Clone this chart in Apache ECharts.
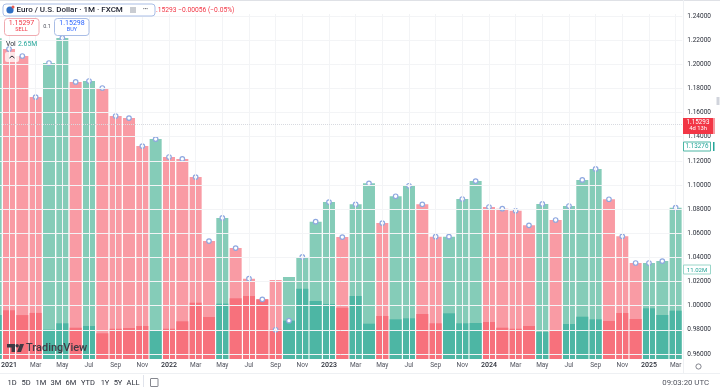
<!DOCTYPE html>
<html><head><meta charset="utf-8">
<style>html,body{margin:0;padding:0;background:#fff}#c{width:720px;height:391px}</style>
<script src="https://cdn.jsdelivr.net/npm/echarts@6/dist/echarts.min.js"></script>
</head><body><div id="c"></div>
<script>
const periods = ['Dec20','2021','Feb','Mar','Apr','May','Jun','Jul','Aug','Sep','Oct','Nov','Dec','2022','Feb22','Mar22','Apr22','May22','Jun22','Jul22','Aug22','Sep22','Oct22','Nov22','Dec22','2023','Feb23','Mar23','Apr23','May23','Jun23','Jul23','Aug23','Sep23','Oct23','Nov23','Dec23','2024','Feb24','Mar24','Apr24','May24','Jun24','Jul24','Aug24','Sep24','Oct24','Nov24','Dec24','2025','Feb25','Mar25'];
const axisLabels = ['','2021','','Mar','','May','','Jul','','Sep','','Nov','','2022','','Mar','','May','','Jul','','Sep','','Nov','','2023','','Mar','','May','','Jul','','Sep','','Nov','','2024','','Mar','','May','','Jul','','Sep','','Nov','','2025','','Mar'];
const closes = [1.2216,1.2127,1.2069,1.1729,1.2011,1.2218,1.1854,1.1862,1.1804,1.1572,1.1555,1.1323,1.1381,1.1232,1.1216,1.1066,1.0536,1.0727,1.0478,1.0224,1.0053,0.9801,0.9876,1.0404,1.0696,1.0859,1.0569,1.0840,1.1014,1.0685,1.0907,1.0994,1.0840,1.0572,1.0572,1.0884,1.1033,1.0818,1.0804,1.0787,1.0666,1.0843,1.0710,1.0826,1.1042,1.1133,1.0882,1.0575,1.0354,1.0354,1.0370,1.0812];
const barTops = closes.map((v,i)=> periods[i]==='Sep22' ? 1.0213 : periods[i]==='Oct22' ? 1.0238 : v);
const directions = [1,0,0,0,1,1,0,1,0,0,0,0,1,0,0,0,0,1,0,0,0,0,1,1,1,1,0,1,1,0,1,1,0,0,1,1,1,0,0,0,0,1,0,1,1,1,0,0,0,1,1,1];
const volumes = [10.1,11.2,10.1,10.6,6.74,8.21,7.2,7.59,5.91,6.97,7.13,7.59,6.67,6.97,8.67,12.95,9.66,12.72,13.96,14.49,13.73,6.74,8.81,16.17,13.34,12.65,11.8,14.49,8.12,9.89,9.13,9.36,10.35,8.21,10.51,8.21,8.28,8.51,7.2,6.97,7.59,6.21,6.6,8.05,9.73,9.13,8.74,10.58,9.2,11.66,10.12,11.11];
const priceTicks = [0.96,0.98,1.0,1.02,1.04,1.06,1.08,1.10,1.12,1.14,1.16,1.18,1.20,1.22,1.24];
const lastPrice = 1.15293;
const rangeButtons = ['1D','5D','1M','3M','6M','YTD','1Y','5Y','ALL'];
const rangeX = [12,26,41,56,71,88,105,118,133];

const F='Roboto, "Open Sans", sans-serif';
const LR='#f99ba4', LT='#85ccb8', DR='#f7717c', DT='#4db6a4';
const txt=(x,y,t,s,c,o={})=>({type:'text',x,y,silent:true,z:50,style:{text:t,font:(o.w||'400')+' '+s+'px '+F,fill:c,textAlign:o.a||'left',textVerticalAlign:'middle'}});
const box=(x,y,w,h,r,fill,stroke,lw)=>({type:'rect',silent:true,z:49,shape:{x,y,width:w,height:h,r},style:{fill,stroke,lineWidth:lw||0}});
const poly=(pts,fill)=>({type:'polygon',silent:true,z:50,shape:{points:pts},style:{fill}});
const graphics=[
 {type:'rect',silent:true,z:1,shape:{x:0,y:0,width:720,height:1},style:{fill:'#dfe1e6'}},
 {type:'rect',silent:true,z:1,shape:{x:0,y:373,width:720,height:1},style:{fill:'#eef0f3'}},
 {type:'rect',silent:true,z:1,shape:{x:683,y:0,width:1,height:373},style:{fill:'#eef0f3'}},
 box(3,4,152,12,3,'#fff','#a9bde6',1),
 {type:'circle',silent:true,z:50,shape:{cx:10,cy:10,r:3.6},style:{fill:'#2f6fc4'}},
 {type:'circle',silent:true,z:50,shape:{cx:13,cy:7,r:1.5},style:{fill:'#e85a4f'}},
 txt(16.5,10,'Euro / U.S. Dollar · 1M · FXCM',8,'#1f2230',{w:'500'}),
 box(130,7,6,6,0,'#c9ccd2','#c9ccd2',0),
 txt(143,10,'•••',5,'#50535e'),
 txt(156,10.5,'.15293 −0.00056 (−0.05%)',6.7,'#f23645'),
 box(4.5,18.5,34.5,17,3,'#fff','#f0aab0',1),
 txt(21.5,23,'1.15297',7,'#f23645',{a:'center'}),
 txt(21.5,30,'SELL',5.5,'#f23645',{a:'center'}),
 txt(47,27,'0.1',5.5,'#50535e',{a:'center'}),
 box(54.5,18.5,34.5,17,3,'#fff','#a9bde6',1),
 txt(72,23,'1.15298',7,'#2962ff',{a:'center'}),
 txt(72,30,'BUY',5.5,'#2962ff',{a:'center'}),
 txt(6,44,'Vol',6.8,'#2a2e39'),
 txt(18,44,'2.65M',6.8,'#26a69a'),
 box(5,52,14,10,2,'rgba(255,255,255,0.75)','rgba(255,255,255,0)',0),
 {type:'polyline',silent:true,z:50,shape:{points:[[9.5,58],[12,56],[14.5,58]]},style:{stroke:'#2a2e39',lineWidth:1,fill:null}},
 poly([[7,344],[15,344],[15,352],[11.5,352],[11.5,347.5],[7,347.5]],'#3f3a44'),
 box(15.5,344,3.4,3.4,1.7,'#3f3a44','#3f3a44',0),
 poly([[20,344],[24,344],[21,352],[17,352]],'#3f3a44'),
 txt(26,348.5,'TradingView',11,'#3f3a44',{w:'500'}),
 box(683,118,30,16,0,'#f23645','#f23645',0),
 txt(698,122.5,'1.15293',6.3,'#fff',{a:'center'}),
 txt(698,129,'4d 13h',5.8,'#fff',{a:'center'}),
 box(713.5,118,1,16,0,'#f23645','#f23645',0),
 box(683.5,142,27,9,0,'#fff','#4db6a4',1),
 txt(697,146.5,'1.13276',6.3,'#26a69a',{a:'center'}),
 box(713,142,1.5,9,0,'#26a69a','#26a69a',0),
 box(683.5,265,27,9,0,'#fff','#9ad6c9',1),
 txt(697,270,'11.02M',6,'#26a69a',{a:'center'}),
 box(716.5,97,3,8,0,'#d1d4dc','#d1d4dc',0),
 {type:'circle',silent:true,z:50,shape:{cx:698.5,cy:366.5,r:2.6},style:{fill:'#fff',stroke:'#50535e',lineWidth:0.7}},
 txt(709,383,'09:03:20 UTC',7.8,'#50535e',{a:'right'}),
 box(150.5,378.5,7.5,8,0.5,'#fff','#50535e',0.7),
 {type:'rect',silent:true,z:49,shape:{x:143,y:375,width:1,height:12},style:{fill:'#e0e3eb'}}
];
rangeButtons.forEach((t,i)=>graphics.push(txt(rangeX[i],383,t,7.5,'#2a2e39',{a:'center'})));

const gl={color:'#f3f4f6',width:1,type:'solid'};
const gridLines=[
 ...priceTicks.map(v=>({yAxis:v,lineStyle:gl})),
 ...periods.map((p,i)=>axisLabels[i]?{xAxis:p,lineStyle:gl}:null).filter(Boolean),
 {yAxis:lastPrice,lineStyle:{color:'#d8dae0',width:1,type:'dotted'}}
];
const chart=echarts.init(document.getElementById('c'),null,{renderer:'canvas'});
chart.setOption({
 animation:false,
 graphic:graphics,
 grid:{left:-11,right:37.7,top:14,bottom:32,containLabel:false,outerBoundsMode:'none'},
 xAxis:{type:'category',data:periods,
  axisLine:{show:false},axisTick:{show:false},splitLine:{show:false},
  axisLabel:{interval:0,margin:3,hideOverlap:false,formatter:(v,i)=>{const l=axisLabels[i];return /^\d/.test(l)?`{y|${l}}`:`{m|${l}}`;},
   rich:{y:{fontFamily:F,fontSize:7,fontWeight:500,color:'#2a2e39'},m:{fontFamily:F,fontSize:6.5,color:'#50535e'}}}},
 yAxis:[
  {type:'value',position:'right',min:0.95586,max:1.24169,scale:true,
   axisLine:{show:false},axisTick:{show:false},splitLine:{show:false},
   axisLabel:{customValues:priceTicks,formatter:v=>v.toFixed(5),fontFamily:F,fontSize:6.5,color:'#2a2e39',margin:5}},
  {type:'value',min:0,max:79.35,show:false}
 ],
 series:[
  {type:'line',data:[],z:0,silent:true,markLine:{silent:true,symbol:'none',label:{show:false},data:gridLines}},
  {type:'bar',data:barTops.map((v,i)=>({value:v,itemStyle:{color:directions[i]?LT:LR}})),barWidth:12,barGap:'-100%',z:2,yAxisIndex:0},
  {type:'bar',data:volumes.map((v,i)=>({value:v,itemStyle:{color:directions[i]?DT:DR}})),barWidth:12,barGap:'-100%',z:3,yAxisIndex:1},
  {type:'line',data:closes,z:4,yAxisIndex:0,showSymbol:true,symbol:'circle',symbolSize:4.5,lineStyle:{opacity:0},itemStyle:{color:'#fff',borderColor:'#8fa8e0',borderWidth:1.2}}
 ]
});
</script></body></html>
